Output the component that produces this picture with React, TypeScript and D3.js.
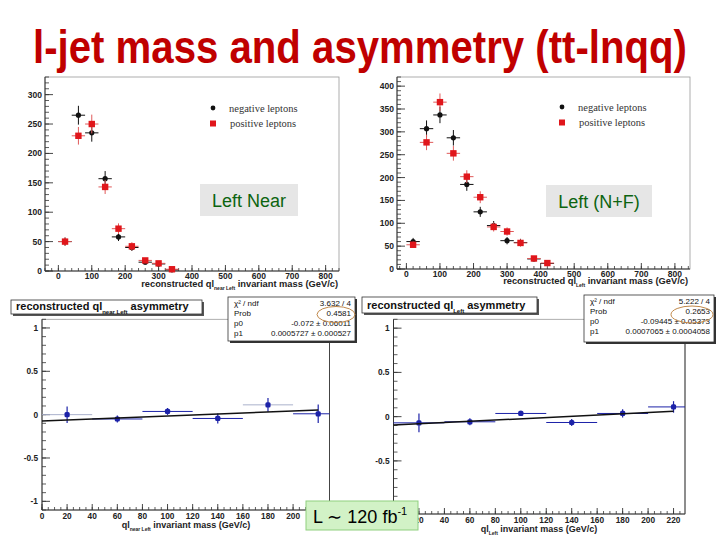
import React from "react";
import * as d3 from "d3";

// ---- data ----
const massCenters = [20, 60, 100, 140, 180, 220, 260, 300, 340, 380, 420];
const binHalfWidth = 20;

const nearNegCounts = [50, 265, 235, 157, 58, 40, 15, 12, 2];
const nearNegErr = [7, 16, 15, 13, 7, 6, 4, 3, 1.5];
const nearPosCounts = [50, 230, 250, 143, 72, 42, 18, 13, 3];
const nearPosErr = [7, 15, 16, 12, 9, 7, 4, 4, 2];

const leftNegCounts = [60, 307, 337, 287, 185, 125, 95, 62, 58, 22, 12];
const leftNegErr = [8, 18, 18, 17, 14, 11, 10, 8, 8, 5, 3];
const leftPosCounts = [53, 277, 365, 253, 202, 157, 92, 82, 57, 23, 13];
const leftPosErr = [7, 17, 19, 16, 14, 13, 10, 9, 8, 5, 4];

const asymCenters = [20, 60, 100, 140, 180, 220];
const nearAsym = [0.0, -0.05, 0.037, -0.044, 0.113, 0.01];
const nearAsymErr = [0.095, 0.04, 0.04, 0.058, 0.08, 0.106];
const leftAsym = [-0.07, -0.058, 0.036, -0.066, 0.036, 0.11];
const leftAsymErr = [0.107, 0.04, 0.03, 0.04, 0.047, 0.065];

const nearFit = [-0.072, 0.0005727];
const leftFit = [-0.09445, 0.0007065];
const fitRange = [0, 220];

const nearStats = [
  ["χ² / ndf", "3.632 / 4"],
  ["Prob", "0.4581"],
  ["p0", "-0.072 ± 0.06011"],
  ["p1", "0.0005727 ± 0.000527"],
];
const leftStats = [
  ["χ² / ndf", "5.222 / 4"],
  ["Prob", "0.2653"],
  ["p0", "-0.09445 ± 0.05373"],
  ["p1", "0.0007065 ± 0.0004058"],
];

const massTicks = [0, 100, 200, 300, 400, 500, 600, 700, 800];
const nearCountTicks = [0, 50, 100, 150, 200, 250, 300];
const leftCountTicks = [0, 50, 100, 150, 200, 250, 300, 350, 400];
const asymTicks = [-1, -0.5, 0, 0.5, 1];
const asymMassTicks = [0, 20, 40, 60, 80, 100, 120, 140, 160, 180, 200, 220];

// ---- styling ----
const SANS = "'Liberation Sans', Arial, Helvetica, sans-serif";
const SERIF = "'Liberation Serif', 'Times New Roman', serif";
const RED = "#e0161b";
const RED_ERR = "#e05a5a";
const BLUE = "#1c22a8";
const AXIS = "#333";

type Frame = { x0: number; x1: number; y0: number; y1: number };

function minorRange(lo: number, hi: number, step: number) {
  const start = Math.ceil(lo / step) * step;
  return d3.range(start, hi + 1e-9, step);
}

function AxisTicks({
  frame, xs, ys, xMajor, xMinorStep, yMajor, yMinorStep,
  xLen, yLen, xLabelY, yLabelX, fontSize, fmtY,
}: {
  frame: Frame; xs: d3.ScaleLinear<number, number>; ys: d3.ScaleLinear<number, number>;
  xMajor: number[]; xMinorStep: number; yMajor: number[]; yMinorStep: number;
  xLen: [number, number]; yLen: [number, number]; xLabelY: number; yLabelX: number;
  fontSize: number; fmtY?: (v: number) => string;
}) {
  const [xd0, xd1] = xs.domain();
  const [yd0, yd1] = ys.domain();
  const xMin = minorRange(xd0, xd1, xMinorStep);
  const yMin = minorRange(yd0, yd1, yMinorStep);
  return (
    <g>
      {xMin.map((v, i) => (
        <line key={"xm" + i} x1={xs(v)} x2={xs(v)} y1={frame.y1} y2={frame.y1 - xLen[1]} stroke={AXIS} strokeWidth={0.8} />
      ))}
      {xMajor.map((v, i) => (
        <g key={"xM" + i}>
          <line x1={xs(v)} x2={xs(v)} y1={frame.y1} y2={frame.y1 - xLen[0]} stroke={AXIS} strokeWidth={0.9} />
          <text x={xs(v)} y={xLabelY} textAnchor="middle" fontFamily={SANS} fontWeight="bold" fontSize={fontSize} fill="#222">
            {v}
          </text>
        </g>
      ))}
      {yMin.map((v, i) => (
        <line key={"ym" + i} x1={frame.x0} x2={frame.x0 + yLen[1]} y1={ys(v)} y2={ys(v)} stroke={AXIS} strokeWidth={0.8} />
      ))}
      {yMajor.map((v, i) => (
        <g key={"yM" + i}>
          <line x1={frame.x0} x2={frame.x0 + yLen[0]} y1={ys(v)} y2={ys(v)} stroke={AXIS} strokeWidth={0.9} />
          <text x={yLabelX} y={ys(v) + fontSize * 0.36} textAnchor="end" fontFamily={SANS} fontWeight="bold" fontSize={fontSize} fill="#222">
            {fmtY ? fmtY(v) : v}
          </text>
        </g>
      ))}
      <line x1={frame.x0} x2={frame.x1} y1={frame.y1} y2={frame.y1} stroke={AXIS} strokeWidth={1} />
      <line x1={frame.x0} x2={frame.x0} y1={frame.y0} y2={frame.y1} stroke={AXIS} strokeWidth={1} />
    </g>
  );
}

function CountPanel({
  frame, xDomain, yDomain, yTicks, neg, negErr, pos, posErr, sub, tag, tagBox,
  legendX, legendY, xTitleX, xTitleY, xLabelY,
}: {
  frame: Frame; xDomain: [number, number]; yDomain: [number, number]; yTicks: number[];
  neg: number[]; negErr: number[]; pos: number[]; posErr: number[]; sub: string;
  tag: string; tagBox: Frame; legendX: number; legendY: number; xTitleX: number; xTitleY: number; xLabelY: number;
}) {
  const xs = d3.scaleLinear().domain(xDomain).range([frame.x0, frame.x1]);
  const ys = d3.scaleLinear().domain(yDomain).range([frame.y1, frame.y0]);
  return (
    <g>
      <rect x={frame.x0} y={frame.y0} width={frame.x1 - frame.x0} height={frame.y1 - frame.y0} fill="none" stroke="#9a9a9a" strokeWidth={0.8} />
      <AxisTicks
        frame={frame} xs={xs} ys={ys} xMajor={massTicks} xMinorStep={20} yMajor={yTicks} yMinorStep={10}
        xLen={[6, 3]} yLen={[8, 4]} xLabelY={xLabelY} yLabelX={frame.x0 - 3} fontSize={8.5}
      />
      {/* negative leptons */}
      {neg.map((v, i) => {
        const cx = xs(massCenters[i]);
        const cy = ys(v);
        return (
          <g key={"n" + i}>
            <line x1={xs(massCenters[i] - binHalfWidth)} x2={xs(massCenters[i] + binHalfWidth)} y1={cy} y2={cy} stroke="#111" strokeWidth={1} />
            <line x1={cx} x2={cx} y1={ys(v - negErr[i])} y2={ys(v + negErr[i])} stroke="#111" strokeWidth={1} />
            <circle cx={cx} cy={cy} r={2.6} fill="#111" />
          </g>
        );
      })}
      {/* positive leptons */}
      {pos.map((v, i) => {
        const cx = xs(massCenters[i]);
        const cy = ys(v);
        return (
          <g key={"p" + i}>
            <line x1={xs(massCenters[i] - binHalfWidth)} x2={xs(massCenters[i] + binHalfWidth)} y1={cy} y2={cy} stroke={RED_ERR} strokeWidth={1} />
            <line x1={cx} x2={cx} y1={ys(v - posErr[i])} y2={ys(v + posErr[i])} stroke={RED_ERR} strokeWidth={1} />
            <rect x={cx - 3.2} y={cy - 3.2} width={6.4} height={6.4} fill={RED} />
          </g>
        );
      })}
      {/* legend */}
      <circle cx={legendX} cy={legendY} r={2.4} fill="#111" />
      <text x={legendX + 16} y={legendY + 3.5} fontFamily={SERIF} fontSize={10.5} fill="#333">negative leptons</text>
      <rect x={legendX - 3} y={legendY + 12.5} width={6} height={6} fill={RED} />
      <text x={legendX + 17} y={legendY + 19} fontFamily={SERIF} fontSize={10.5} fill="#333">positive leptons</text>
      {/* x title */}
      <text x={xTitleX} y={xTitleY} textAnchor="end" fontFamily={SANS} fontWeight="bold" fontSize={9.3} fill="#222">
        reconstructed ql
        <tspan fontSize={5} dy={3}>{sub}</tspan>
        <tspan dy={-3}> invariant mass (GeV/c)</tspan>
      </text>
      {/* region tag */}
      <rect x={tagBox.x0} y={tagBox.y0} width={tagBox.x1 - tagBox.x0} height={tagBox.y1 - tagBox.y0} fill="#e6e6e6" />
      <text x={(tagBox.x0 + tagBox.x1) / 2} y={tagBox.y1 - 9} textAnchor="middle" fontFamily={SANS} fontSize={18} fill="#0c6410">
        {tag}
      </text>
    </g>
  );
}

function AsymPanel({
  frame, values, errs, fit, lightH, titleBox, titleSub, stats, statsBox, ellipse, xTitleCx, xTitleY, xLabelY, sub,
}: {
  frame: Frame; values: number[]; errs: number[]; fit: number[]; lightH: number[];
  titleBox: Frame; titleSub: string; stats: string[][]; statsBox: Frame;
  ellipse: { cx: number; cy: number; rx: number; ry: number };
  xTitleCx: number; xTitleY: number; xLabelY: number; sub: string;
}) {
  const xs = d3.scaleLinear().domain([0, 229]).range([frame.x0, frame.x1]);
  const ys = d3.scaleLinear().domain([-1.1, 1.1]).range([frame.y1, frame.y0]);
  const fitLine = d3
    .line<number>()
    .x((m) => xs(m))
    .y((m) => ys(fit[0] + fit[1] * m));
  return (
    <g>
      <rect x={frame.x0} y={frame.y0} width={frame.x1 - frame.x0} height={frame.y1 - frame.y0} fill="none" stroke="#9a9a9a" strokeWidth={0.8} />
      <line x1={frame.x1} x2={frame.x1} y1={frame.y0} y2={frame.y1} stroke="#444" strokeWidth={1} />
      <AxisTicks
        frame={frame} xs={xs} ys={ys} xMajor={asymMassTicks} xMinorStep={5} yMajor={asymTicks} yMinorStep={0.1}
        xLen={[6, 3]} yLen={[8, 4]} xLabelY={xLabelY} yLabelX={frame.x0 - 4} fontSize={8.3}
      />
      {values.map((v, i) => {
        const cx = xs(asymCenters[i]);
        const cy = ys(v);
        return (
          <g key={i}>
            <line
              x1={xs(asymCenters[i] - binHalfWidth)} x2={Math.min(frame.x1, xs(asymCenters[i] + binHalfWidth))}
              y1={cy} y2={cy} stroke={lightH.includes(i) ? "#aab2cc" : BLUE} strokeWidth={1}
            />
            <line x1={cx} x2={cx} y1={ys(v - errs[i])} y2={ys(v + errs[i])} stroke={BLUE} strokeWidth={1.2} />
            <rect x={cx - 2.6} y={cy - 2.6} width={5.2} height={5.2} rx={1.5} fill={BLUE} />
          </g>
        );
      })}
      <path d={fitLine(fitRange) || ""} fill="none" stroke="#111" strokeWidth={1.5} />
      {/* title box */}
      <rect x={titleBox.x0 + 2} y={titleBox.y0 + 2} width={titleBox.x1 - titleBox.x0} height={titleBox.y1 - titleBox.y0} fill="#555" />
      <rect x={titleBox.x0} y={titleBox.y0} width={titleBox.x1 - titleBox.x0} height={titleBox.y1 - titleBox.y0} fill="#fff" stroke="#333" strokeWidth={0.8} />
      <text x={titleBox.x0 + 5} y={titleBox.y1 - 4} fontFamily={SANS} fontWeight="bold" fontSize={11} fill="#111">
        reconstructed ql
        <tspan fontSize={6} dy={3.5}>{titleSub}</tspan>
        <tspan dy={-3.5}> asymmetry</tspan>
      </text>
      {/* fit statistics */}
      <rect x={statsBox.x0 + 2} y={statsBox.y0 + 2} width={statsBox.x1 - statsBox.x0} height={statsBox.y1 - statsBox.y0} fill="#333" />
      <rect x={statsBox.x0} y={statsBox.y0} width={statsBox.x1 - statsBox.x0} height={statsBox.y1 - statsBox.y0} fill="#fff" stroke="#333" strokeWidth={0.8} />
      {stats.map((row, i) => {
        const y = statsBox.y0 + 9 + i * 10;
        return (
          <g key={i}>
            <text x={statsBox.x0 + 6} y={y} fontFamily={SANS} fontSize={8} fill="#111">{row[0]}</text>
            <text x={statsBox.x1 - 4} y={y} textAnchor="end" fontFamily={SANS} fontSize={8} fill="#111">{row[1]}</text>
          </g>
        );
      })}
      <ellipse cx={ellipse.cx} cy={ellipse.cy} rx={ellipse.rx} ry={ellipse.ry} fill="none" stroke="#c0884a" strokeWidth={1} />
      {/* x title */}
      <text x={xTitleCx} y={xTitleY} textAnchor="middle" fontFamily={SANS} fontWeight="bold" fontSize={9} fill="#222">
        ql
        <tspan fontSize={5} dy={3}>{sub}</tspan>
        <tspan dy={-3}> invariant mass (GeV/c)</tspan>
      </text>
    </g>
  );
}

export default function App() {
  return (
    <svg width={720} height={540} style={{ position: "absolute", left: 0, top: 0, background: "#fff" }}>
      <rect width={720} height={540} fill="#fff" />
      <text x={33} y={63} fontFamily={SANS} fontWeight="bold" fontSize={46} fill="#c00000" textLength={654} lengthAdjust="spacingAndGlyphs">
        l-jet mass and asymmetry (tt-lnqq)
      </text>

      <CountPanel
        frame={{ x0: 45, x1: 339, y0: 77, y1: 271 }} xDomain={[-40, 840]} yDomain={[0, 330]} yTicks={nearCountTicks}
        neg={nearNegCounts} negErr={nearNegErr} pos={nearPosCounts} posErr={nearPosErr} sub="near Left"
        tag="Left Near" tagBox={{ x0: 200, x1: 298, y0: 184, y1: 216 }}
        legendX={213} legendY={108} xTitleX={338} xTitleY={287} xLabelY={279}
      />
      <CountPanel
        frame={{ x0: 397, x1: 690, y0: 77, y1: 269 }} xDomain={[-28, 845]} yDomain={[0, 420]} yTicks={leftCountTicks}
        neg={leftNegCounts} negErr={leftNegErr} pos={leftPosCounts} posErr={leftPosErr} sub="Left"
        tag="Left (N+F)" tagBox={{ x0: 546, x1: 652, y0: 185, y1: 217 }}
        legendX={562} legendY={107} xTitleX={688} xTitleY={284} xLabelY={277}
      />

      <AsymPanel
        frame={{ x0: 42, x1: 329.5, y0: 319.3, y1: 510 }} values={nearAsym} errs={nearAsymErr} fit={nearFit} lightH={[0, 4]}
        titleBox={{ x0: 11, x1: 202, y0: 300, y1: 314 }} titleSub="near Left" stats={nearStats}
        statsBox={{ x0: 228, x1: 355, y0: 297, y1: 341 }} ellipse={{ cx: 336, cy: 314.5, rx: 19, ry: 8 }}
        xTitleCx={186} xTitleY={528} xLabelY={518.5} sub="near Left"
      />
      <AsymPanel
        frame={{ x0: 393.5, x1: 685, y0: 319.3, y1: 514 }} values={leftAsym} errs={leftAsymErr} fit={leftFit} lightH={[]}
        titleBox={{ x0: 362, x1: 537, y0: 297, y1: 313 }} titleSub="Left" stats={leftStats}
        statsBox={{ x0: 584, x1: 714, y0: 295, y1: 342 }} ellipse={{ cx: 692, cy: 314.5, rx: 21, ry: 8.5 }}
        xTitleCx={539} xTitleY={531.5} xLabelY={523} sub="Left"
      />

      {/* luminosity label */}
      <rect x={306} y={501} width={112} height={29} fill="#d2f2c6" stroke="#8fcf7f" strokeWidth={1} />
      <text x={313} y={523} fontFamily={SANS} fontSize={18} fill="#000">
        L ∼ 120 fb
        <tspan fontSize={11} dy={-8}>-1</tspan>
      </text>
    </svg>
  );
}
